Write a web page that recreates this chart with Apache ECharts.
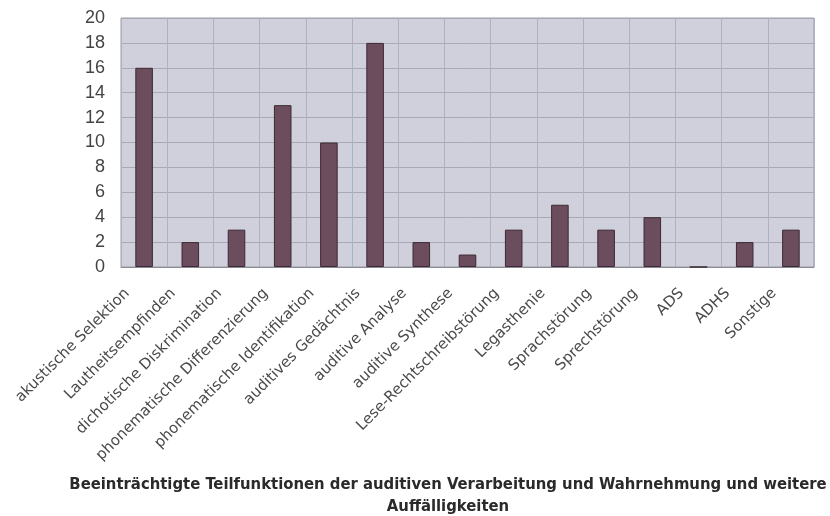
<!DOCTYPE html>
<html>
<head>
<meta charset="utf-8">
<script src="https://cdn.jsdelivr.net/npm/echarts@6/dist/echarts.min.js"></script>
<style>
	html, body { margin: 0; padding: 0; background: #fff; }
	#main { width: 830px; height: 516px; }
</style>
</head>
<body>
<div id="main"></div>
<script>
// Kategorien (x-Achse)
var categories = [
	'akustische Selektion',
	'Lautheitsempfinden',
	'dichotische Diskrimination',
	'phonematische Differenzierung',
	'phonematische Identifikation',
	'auditives Gedächtnis',
	'auditive Analyse',
	'auditive Synthese',
	'Lese-Rechtschreibstörung',
	'Legasthenie',
	'Sprachstörung',
	'Sprechstörung',
	'ADS',
	'ADHS',
	'Sonstige'
];
// Anzahl je Kategorie
var values = [16, 2, 3, 13, 10, 18, 2, 1, 3, 5, 3, 4, 0, 2, 3];

var yTicks = [0, 2, 4, 6, 8, 10, 12, 14, 16, 18, 20];

var chartTitle = 'Beeinträchtigte Teilfunktionen der auditiven Verarbeitung und Wahrnehmung und weitere\nAuffälligkeiten';

var myChart = echarts.init(document.getElementById('main'));
var option = {
	animation: false,
	backgroundColor: '#ffffff',
	title: {
		text: chartTitle,
		left: 443,
		top: 469,
		textAlign: 'center',
		textStyle: {
			fontFamily: 'DejaVu Sans Condensed, DejaVu Sans, sans-serif',
			fontSize: 16.5,
			fontWeight: 'bold',
			color: '#2a2a2a',
			lineHeight: 22,
			align: 'center'
		}
	},
	grid: {
		left: 121,
		right: 16,
		top: 18,
		bottom: 249,
		show: true,
		backgroundColor: '#cfd0dc',
		borderColor: '#9a9aa4',
		borderWidth: 1
	},
	xAxis: {
		type: 'category',
		data: categories,
		axisLine: { show: true, lineStyle: { color: '#8c8c96' } },
		axisTick: { show: false },
		splitLine: { show: true, lineStyle: { color: '#b0b0be', width: 1 } },
		axisLabel: {
			interval: 0,
			rotate: 45,
			margin: 7,
			padding: [0, 24, 0, 0],
			fontFamily: 'DejaVu Sans, Verdana, sans-serif',
			fontSize: 15,
			color: '#4a4a4a'
		}
	},
	yAxis: {
		type: 'value',
		min: yTicks[0],
		max: yTicks[yTicks.length - 1],
		interval: 2,
		axisLine: { show: false },
		axisTick: { show: false },
		splitLine: { show: true, lineStyle: { color: '#a8a8b6', width: 1 } },
		axisLabel: {
			margin: 16,
			fontFamily: 'Liberation Sans, Arial, sans-serif',
			fontSize: 18,
			color: '#444'
		}
	},
	series: [{
		type: 'bar',
		data: values,
		barWidth: '38%',
		itemStyle: {
			color: '#6c4d5d',
			borderColor: '#3b2a33',
			borderWidth: 1
		}
	}]
};
myChart.setOption(option);
</script>
</body>
</html>
